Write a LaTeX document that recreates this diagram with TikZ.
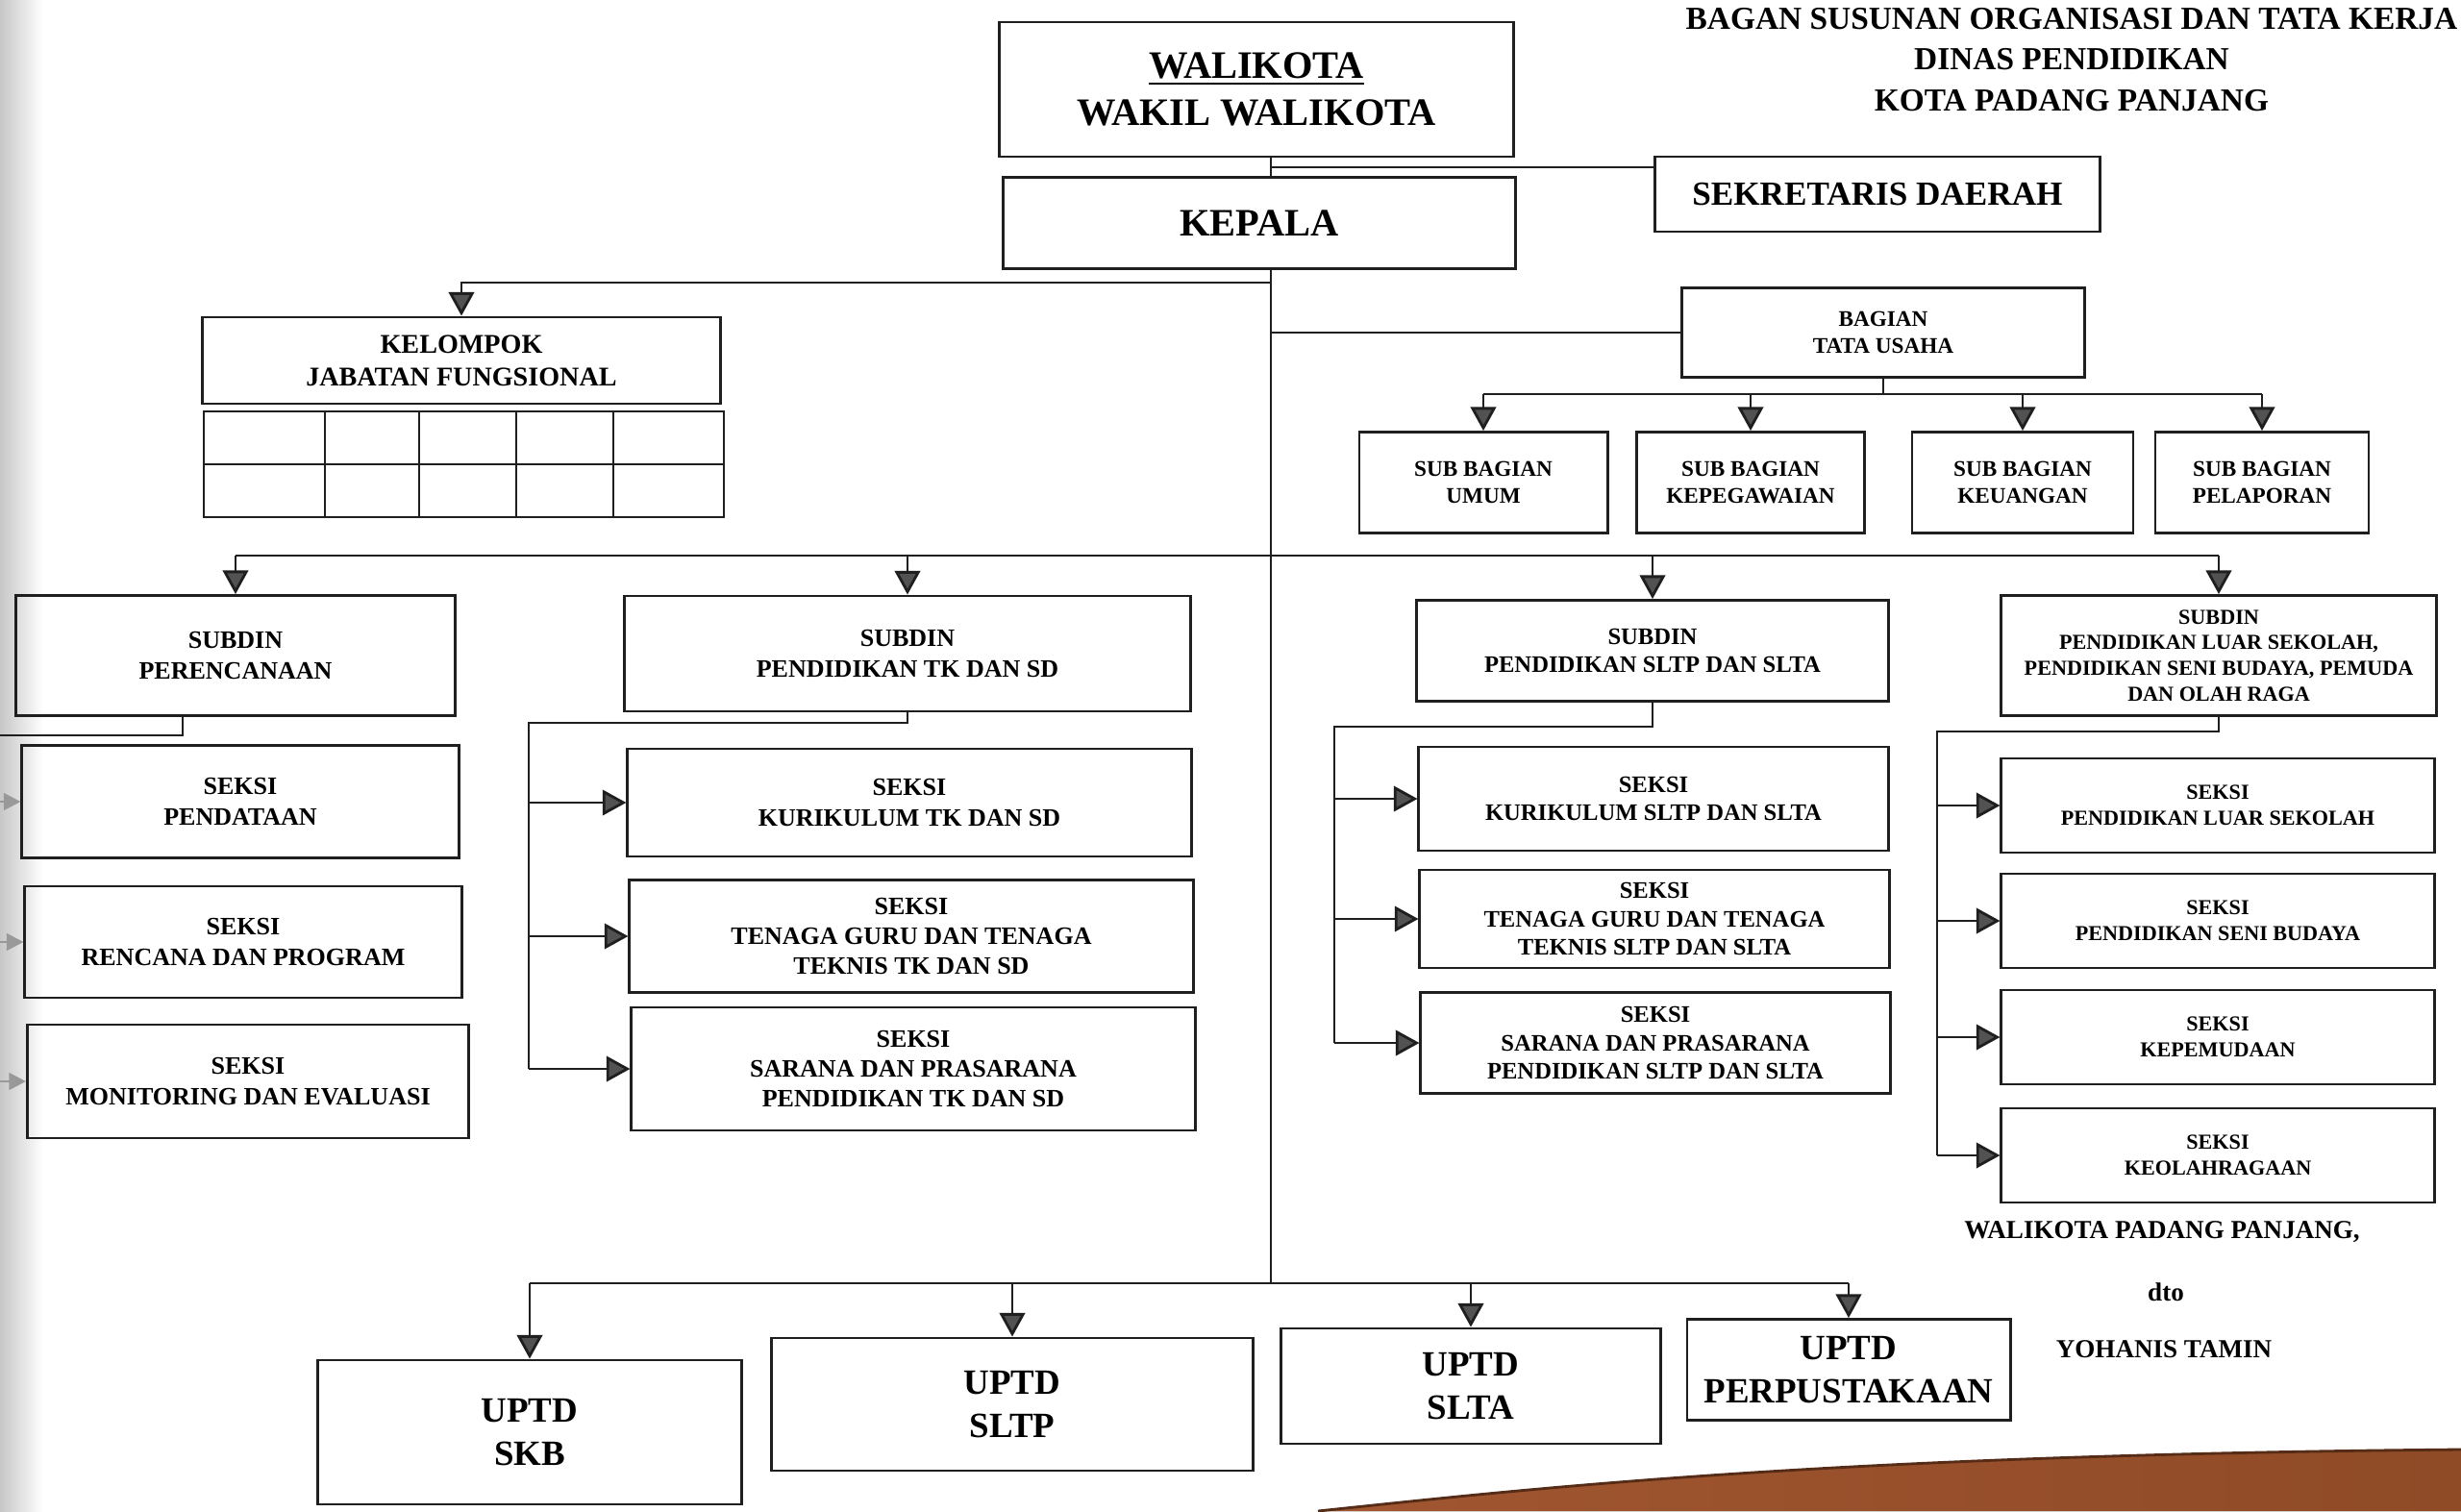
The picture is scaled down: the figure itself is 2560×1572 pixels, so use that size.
\documentclass[tikz,border=0pt]{standalone}
\usepackage{fontspec}
\setmainfont{Liberation Serif}
\usetikzlibrary{arrows.meta,positioning,calc}
\definecolor{GarisClr}{rgb}{0.12,0.12,0.12}
\definecolor{PanahClr}{rgb}{0.32,0.32,0.32}
\definecolor{MejaClr}{rgb}{0.63,0.34,0.19}
\definecolor{MejaGelap}{rgb}{0.56,0.29,0.15}

\begin{document}
\begin{tikzpicture}[x=0.01cm,y=-0.01cm,
  kotak/.style={draw=GarisClr,line width=0.8pt,align=center,inner sep=2pt},
  garis/.style={draw=GarisClr,line width=0.8pt},
  panah/.style={garis,-{Triangle[length=7pt,width=7.5pt,fill=PanahClr]}},
  panahAbu/.style={draw=black!40,line width=0.8pt,-{Triangle[length=5pt,width=5pt,fill=black!40]}},
  hurufA/.style={font=\bfseries\fontsize{11.5}{14}\selectfont},
  hurufB/.style={font=\bfseries\fontsize{10}{12}\selectfont},
  hurufC/.style={font=\bfseries\fontsize{8}{9.6}\selectfont},
  hurufD/.style={font=\bfseries\fontsize{6.6}{8}\selectfont},
  hurufE/.style={font=\bfseries\fontsize{7.4}{8.9}\selectfont},
  hurufF/.style={font=\bfseries\fontsize{7}{8.4}\selectfont},
  hurufG/.style={font=\bfseries\fontsize{6.3}{7.6}\selectfont},
  hurufH/.style={font=\bfseries\fontsize{10.5}{12.6}\selectfont},
  hurufI/.style={font=\bfseries\fontsize{7.7}{9}\selectfont},
  hurufJ/.style={font=\bfseries\fontsize{9.5}{12}\selectfont}]

\useasboundingbox (0,0) rectangle (2560,1572);

% Latar kertas, bayangan tepi kiri dan meja.
\fill[white] (0,0) rectangle (2560,1572);
\shade[left color=black!22,right color=white] (0,0) rectangle (45,1572);
\fill[left color=MejaClr,right color=MejaGelap] (1371,1572) .. controls (1600,1548) and (1900,1514) .. (2560,1508) -- (2560,1572) -- cycle;
\draw[MejaGelap!60!black,line width=0.8pt] (1371,1572) .. controls (1600,1548) and (1900,1514) .. (2560,1508);

% Titik bantu untuk garis.
\coordinate (tepi) at (0,0);
\coordinate (tulang) at (1322,1335);
\coordinate (cabang) at (1322,174);
\coordinate (jf) at (1322,294);
\coordinate (busSB) at (1959,410);
\coordinate (busSD) at (1322,578);
\coordinate (k1) at (190,765);
\coordinate (k2) at (550,752);
\coordinate (k3) at (1388,756);
\coordinate (k4) at (2015,761);

% Judul.
\node[hurufJ,align=center] (judul) at (2155,62) {BAGAN SUSUNAN ORGANISASI DAN TATA KERJA\\DINAS PENDIDIKAN\\KOTA PADANG PANJANG};

% Pimpinan.
\node[kotak,hurufA,minimum width=5.34cm,minimum height=1.40cm] (walikota) at (1307,93) {\underline{WALIKOTA}\\WAKIL WALIKOTA};
\node[kotak,hurufA,minimum width=5.33cm,minimum height=0.95cm] (kepala) at (1310,232) {KEPALA};
\node[kotak,hurufB,minimum width=4.63cm,minimum height=0.78cm] (sekda) at (1953,202) {SEKRETARIS DAERAH};

% Kelompok jabatan fungsional dan tabelnya.
\node[kotak,hurufC,minimum width=5.38cm,minimum height=0.90cm] (kelompok) at (480,375) {KELOMPOK\\JABATAN FUNGSIONAL};
\draw[garis] (212,428) rectangle (753,538)
  (212,483) -- (753,483)
  (338,428) -- (338,538) (436,428) -- (436,538)
  (537,428) -- (537,538) (638,428) -- (638,538);

% Bagian tata usaha dan sub bagian.
\node[kotak,hurufD,minimum width=4.18cm,minimum height=0.93cm] (tatausaha) at (1959,346) {BAGIAN\\TATA USAHA};
\node[kotak,hurufD,minimum width=2.58cm,minimum height=1.05cm] (umum) at (1543,502) {SUB BAGIAN\\UMUM};
\node[kotak,hurufD,minimum width=2.37cm,minimum height=1.05cm] (kepegawaian) at (1821,502) {SUB BAGIAN\\KEPEGAWAIAN};
\node[kotak,hurufD,minimum width=2.30cm,minimum height=1.05cm] (keuangan) at (2104,502) {SUB BAGIAN\\KEUANGAN};
\node[kotak,hurufD,minimum width=2.22cm,minimum height=1.05cm] (pelaporan) at (2353,502) {SUB BAGIAN\\PELAPORAN};

% Subdin.
\node[kotak,hurufE,minimum width=4.57cm,minimum height=1.25cm] (perencanaan) at (245,682) {SUBDIN\\PERENCANAAN};
\node[kotak,hurufE,minimum width=5.88cm,minimum height=1.20cm] (subtk) at (944,680) {SUBDIN\\PENDIDIKAN TK DAN SD};
\node[kotak,hurufF,minimum width=4.90cm,minimum height=1.05cm] (subsltp) at (1719,677) {SUBDIN\\PENDIDIKAN SLTP DAN SLTA};
\node[kotak,hurufG,minimum width=4.53cm,minimum height=1.25cm] (subpls) at (2308,682) {SUBDIN\\PENDIDIKAN LUAR SEKOLAH,\\PENDIDIKAN SENI BUDAYA, PEMUDA\\DAN OLAH RAGA};

% Seksi subdin perencanaan.
\node[kotak,hurufE,minimum width=4.54cm,minimum height=1.17cm] (pendataan) at (250,834) {SEKSI\\PENDATAAN};
\node[kotak,hurufE,minimum width=4.54cm,minimum height=1.16cm] (rencana) at (253,980) {SEKSI\\RENCANA DAN PROGRAM};
\node[kotak,hurufE,minimum width=4.59cm,minimum height=1.18cm] (monev) at (258,1125) {SEKSI\\MONITORING DAN EVALUASI};

% Seksi subdin TK dan SD.
\node[kotak,hurufE,minimum width=5.86cm,minimum height=1.12cm] (kurtk) at (946,835) {SEKSI\\KURIKULUM TK DAN SD};
\node[kotak,hurufE,minimum width=5.86cm,minimum height=1.17cm] (gurutk) at (948,974) {SEKSI\\TENAGA GURU DAN TENAGA\\TEKNIS TK DAN SD};
\node[kotak,hurufE,minimum width=5.86cm,minimum height=1.28cm] (saranatk) at (950,1112) {SEKSI\\SARANA DAN PRASARANA\\PENDIDIKAN TK DAN SD};

% Seksi subdin SLTP dan SLTA.
\node[kotak,hurufF,minimum width=4.88cm,minimum height=1.08cm] (kursltp) at (1720,831) {SEKSI\\KURIKULUM SLTP DAN SLTA};
\node[kotak,hurufF,minimum width=4.88cm,minimum height=1.02cm] (gurusltp) at (1721,956) {SEKSI\\TENAGA GURU DAN TENAGA\\TEKNIS SLTP DAN SLTA};
\node[kotak,hurufF,minimum width=4.88cm,minimum height=1.05cm] (saranasltp) at (1722,1085) {SEKSI\\SARANA DAN PRASARANA\\PENDIDIKAN SLTP DAN SLTA};

% Seksi subdin pendidikan luar sekolah.
\node[kotak,hurufG,minimum width=4.50cm,minimum height=0.98cm] (seksipls) at (2307,838) {SEKSI\\PENDIDIKAN LUAR SEKOLAH};
\node[kotak,hurufG,minimum width=4.50cm,minimum height=0.98cm] (senibudaya) at (2307,958) {SEKSI\\PENDIDIKAN SENI BUDAYA};
\node[kotak,hurufG,minimum width=4.50cm,minimum height=0.98cm] (kepemudaan) at (2307,1079) {SEKSI\\KEPEMUDAAN};
\node[kotak,hurufG,minimum width=4.50cm,minimum height=0.98cm] (keolahragaan) at (2307,1202) {SEKSI\\KEOLAHRAGAAN};

% UPTD.
\node[kotak,hurufH,minimum width=4.40cm,minimum height=1.50cm] (skb) at (551,1490) {UPTD\\SKB};
\node[kotak,hurufH,minimum width=5.00cm,minimum height=1.38cm] (uptdsltp) at (1053,1461) {UPTD\\SLTP};
\node[kotak,hurufH,minimum width=3.95cm,minimum height=1.20cm] (uptdslta) at (1530,1442) {UPTD\\SLTA};
\node[kotak,hurufH,minimum width=3.36cm,minimum height=1.05cm] (perpus) at (1923,1425) {UPTD\\PERPUSTAKAAN};

% Tanda tangan.
\node[hurufI] (ttdjabatan) at (2249,1282) {WALIKOTA PADANG PANJANG,};
\node[hurufI] (ttddto) at (2253,1344) {dto};
\node[hurufI] (ttdnama) at (2251,1404) {YOHANIS TAMIN};

% Garis komando utama.
\draw[garis] (walikota.south -| tulang) -- (kepala.north -| tulang);
\draw[garis] (kepala.south -| tulang) -- (tulang);
\draw[garis] (cabang) -- (cabang -| sekda.west);
\draw[panah] (jf) -| (kelompok.north);

% Garis ke bagian tata usaha.
\draw[garis] (tulang |- tatausaha.west) -- (tatausaha.west);
\draw[garis] (tatausaha.south) -- (busSB);
\draw[garis] (umum.north |- busSB) -- (pelaporan.north |- busSB);
\draw[panah] (umum.north |- busSB) -- (umum.north);
\draw[panah] (kepegawaian.north |- busSB) -- (kepegawaian.north);
\draw[panah] (keuangan.north |- busSB) -- (keuangan.north);
\draw[panah] (pelaporan.north |- busSB) -- (pelaporan.north);

% Garis ke subdin.
\draw[garis] (perencanaan.north |- busSD) -- (subpls.north |- busSD);
\draw[panah] (perencanaan.north |- busSD) -- (perencanaan.north);
\draw[panah] (subtk.north |- busSD) -- (subtk.north);
\draw[panah] (subsltp.north |- busSD) -- (subsltp.north);
\draw[panah] (subpls.north |- busSD) -- (subpls.north);

% Garis ke seksi.
\draw[garis] (perencanaan.south -| k1) -- (k1) -- (k1 -| tepi);
\draw[panahAbu] (pendataan.west -| tepi) -- (pendataan.west);
\draw[panahAbu] (rencana.west -| tepi) -- (rencana.west);
\draw[panahAbu] (monev.west -| tepi) -- (monev.west);

\draw[garis] (subtk.south) |- (k2) -- (k2 |- saranatk.west);
\draw[panah] (k2 |- kurtk.west) -- (kurtk.west);
\draw[panah] (k2 |- gurutk.west) -- (gurutk.west);
\draw[panah] (k2 |- saranatk.west) -- (saranatk.west);

\draw[garis] (subsltp.south) |- (k3) -- (k3 |- saranasltp.west);
\draw[panah] (k3 |- kursltp.west) -- (kursltp.west);
\draw[panah] (k3 |- gurusltp.west) -- (gurusltp.west);
\draw[panah] (k3 |- saranasltp.west) -- (saranasltp.west);

\draw[garis] (subpls.south) |- (k4) -- (k4 |- keolahragaan.west);
\draw[panah] (k4 |- seksipls.west) -- (seksipls.west);
\draw[panah] (k4 |- senibudaya.west) -- (senibudaya.west);
\draw[panah] (k4 |- kepemudaan.west) -- (kepemudaan.west);
\draw[panah] (k4 |- keolahragaan.west) -- (keolahragaan.west);

% Garis ke UPTD.
\draw[garis] (skb.north |- tulang) -- (perpus.north |- tulang);
\draw[panah] (skb.north |- tulang) -- (skb.north);
\draw[panah] (uptdsltp.north |- tulang) -- (uptdsltp.north);
\draw[panah] (uptdslta.north |- tulang) -- (uptdslta.north);
\draw[panah] (perpus.north |- tulang) -- (perpus.north);

\end{tikzpicture}
\end{document}
